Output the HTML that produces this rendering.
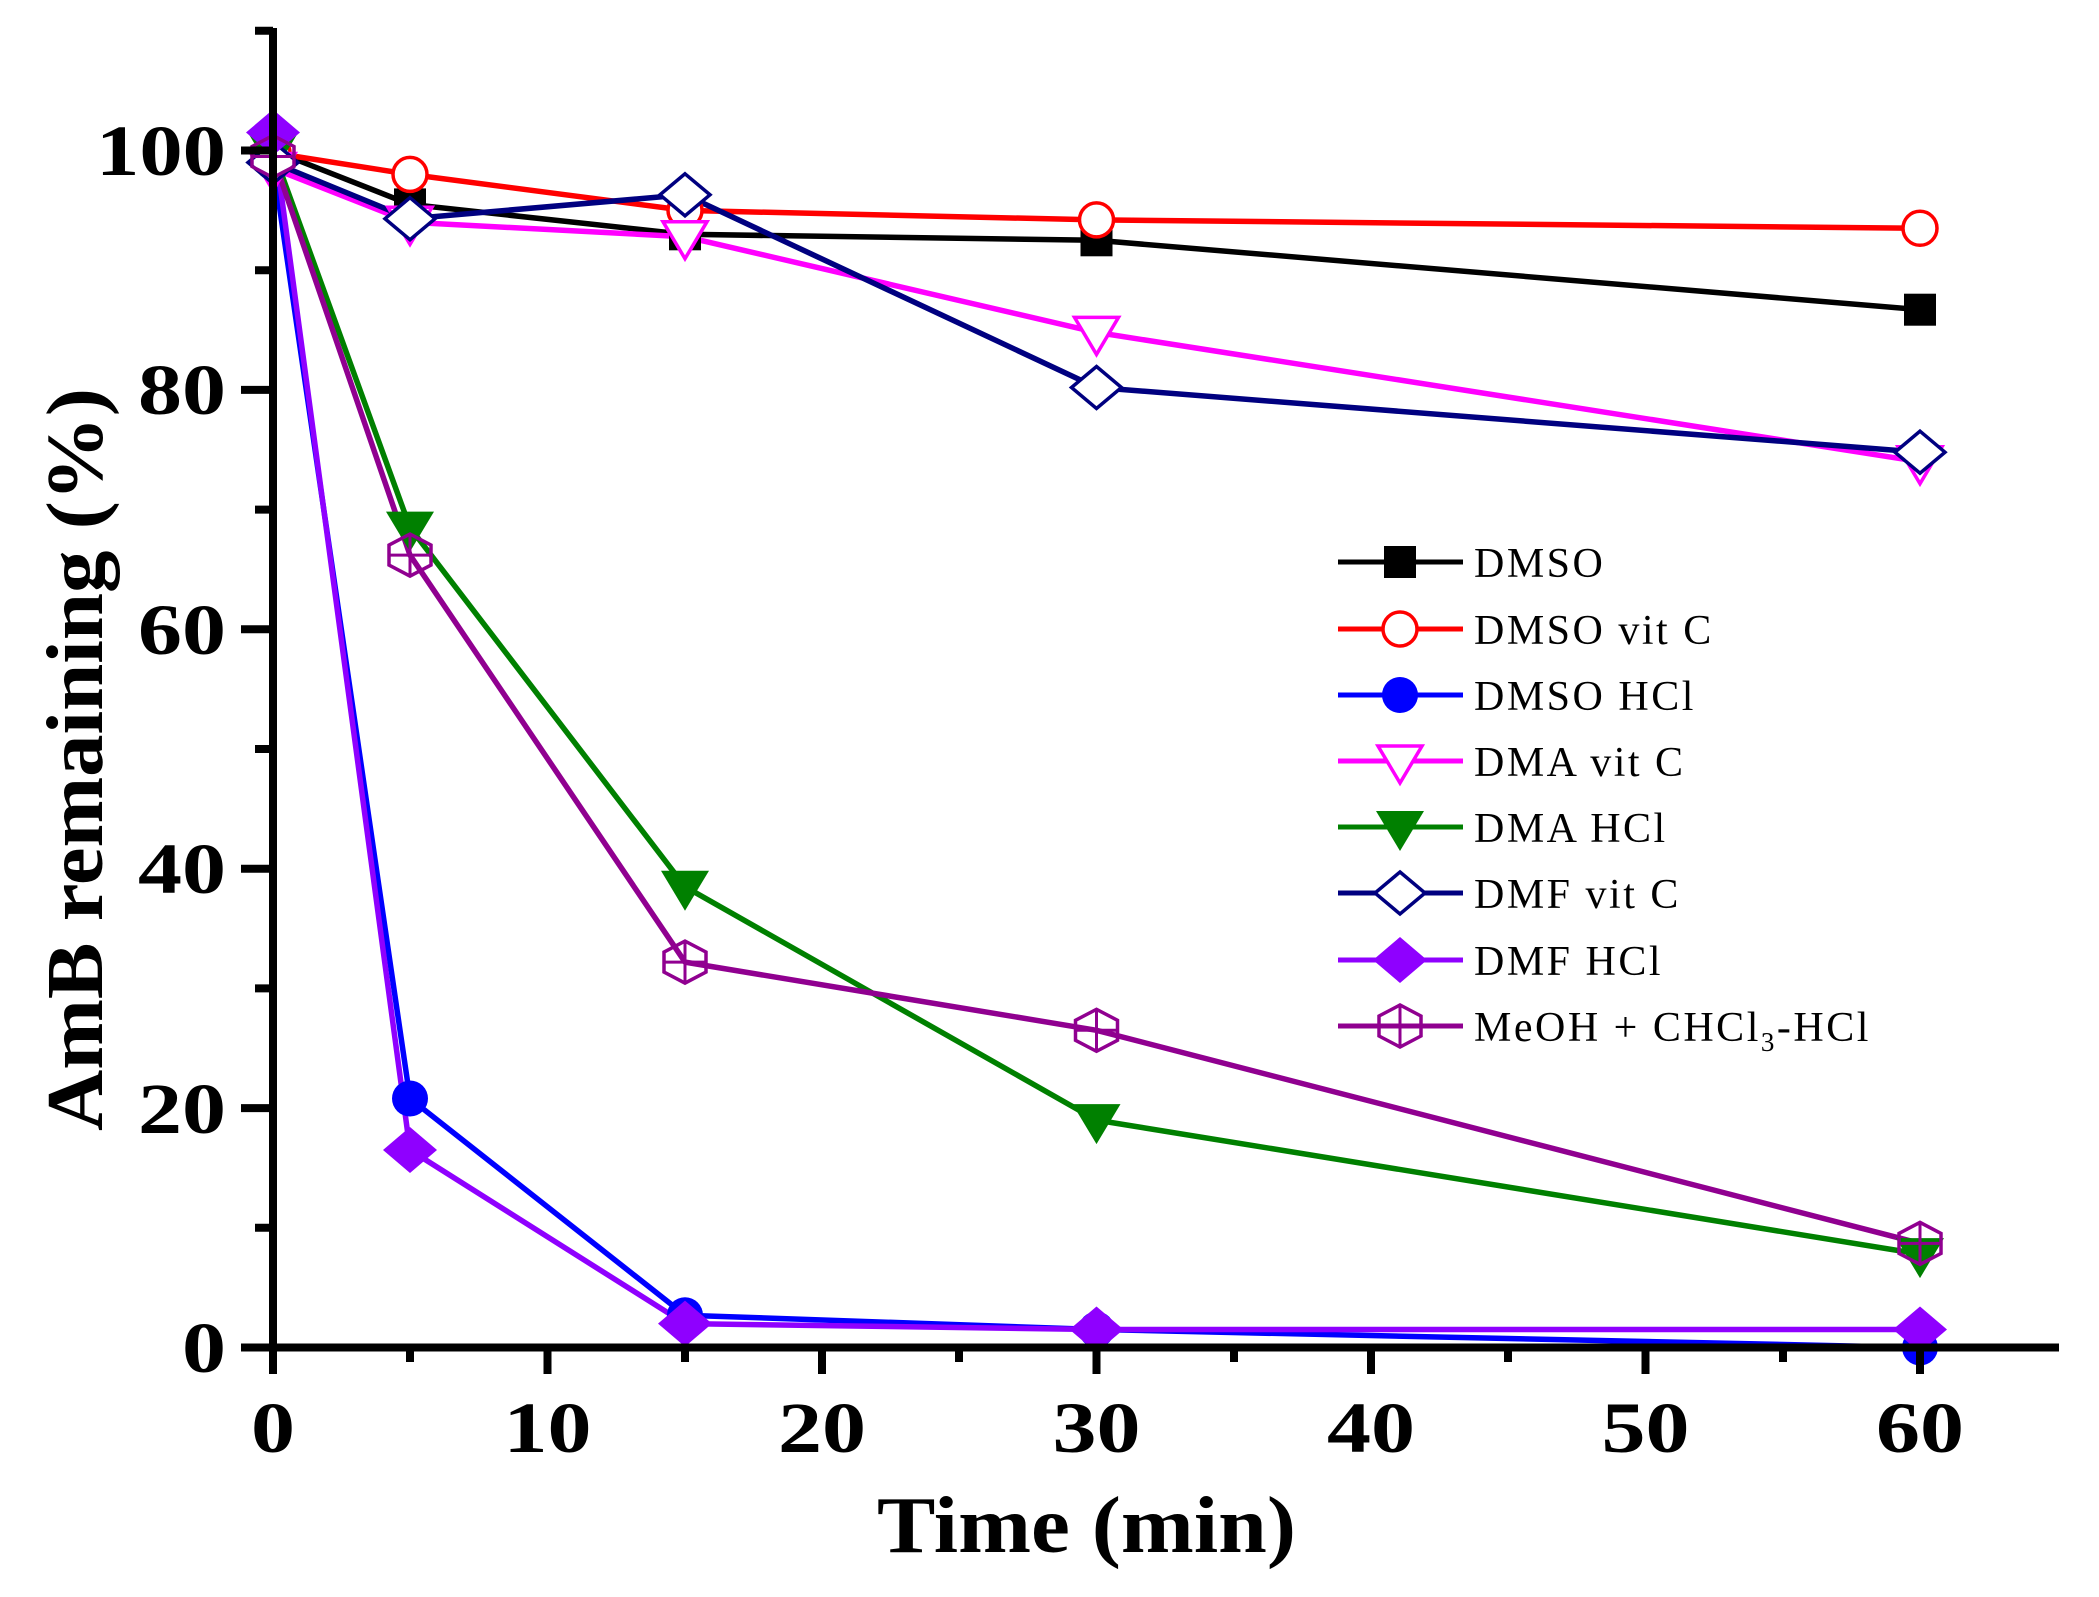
<!DOCTYPE html>
<html><head><meta charset="utf-8"><style>body{margin:0;background:#fff}svg{display:block}</style></head>
<body>
<svg width="2099" height="1597" viewBox="0 0 2099 1597" xmlns="http://www.w3.org/2000/svg">
<defs>
<g id="sq"><rect x="-16" y="-16" width="32" height="32" fill="#000"/></g>
<g id="oc"><circle r="17" fill="#fff" stroke="#f00" stroke-width="3.5"/></g>
<g id="fc"><circle r="18" fill="#00f"/></g>
<g id="ot"><polygon points="-22,-15 22,-15 0,22" fill="#fff" stroke="#f0f" stroke-width="3.5"/></g>
<g id="ft"><polygon points="-24,-16 24,-16 0,24" fill="#008000"/></g>
<g id="od"><polygon points="0,-21 25,0 0,21 -25,0" fill="#fff" stroke="#000080" stroke-width="3.5"/></g>
<g id="fd"><polygon points="0,-23 27,0 0,23 -27,0" fill="#8f00ff"/></g>
<g id="hx"><polygon points="-21,-10 0,-21 21,-10 21,10 0,21 -21,10" fill="none" stroke="#900090" stroke-width="3.5"/><path d="M0,-21V21M-21,0H21" stroke="#900090" stroke-width="3"/></g>
</defs>
<g fill="none" stroke-width="5.5" stroke-linejoin="round">
<polyline stroke="#000" points="273,150.5 410,204.4 685,234.3 1096.5,240.3 1920,309.7"/>
<polyline stroke="#f00" points="273,152.9 410,174.4 685,210.4 1096.5,219.9 1920,228.3"/>
<polyline stroke="#00f" points="273,162.5 410,1098.5 685,1315.2 1096.5,1329.5 1920,1347.5"/>
<polyline stroke="#f0f" points="273,168.5 410,222.3 685,236.7 1096.5,332.4 1920,461.7"/>
<polyline stroke="#008000" points="273,150.5 410,527.6 685,886.7 1096.5,1120.1 1920,1254.1"/>
<polyline stroke="#000080" points="273,162.5 410,218.7 685,194.8 1096.5,387.5 1920,452.2"/>
<polyline stroke="#8f00ff" points="273,132.5 410,1150 685,1323.6 1096.5,1329.5 1920,1329.5"/>
<polyline stroke="#900090" points="273,156.5 410,555.1 685,962.1 1096.5,1030.3 1920,1243.4"/>
</g>
<use href="#sq" x="273" y="150.5"/><use href="#sq" x="410" y="204.4"/><use href="#sq" x="685" y="234.3"/><use href="#sq" x="1096.5" y="240.3"/><use href="#sq" x="1920" y="309.7"/>
<use href="#oc" x="273" y="152.9"/><use href="#oc" x="410" y="174.4"/><use href="#oc" x="685" y="210.4"/><use href="#oc" x="1096.5" y="219.9"/><use href="#oc" x="1920" y="228.3"/>
<use href="#fc" x="273" y="162.5"/><use href="#fc" x="410" y="1098.5"/><use href="#fc" x="685" y="1315.2"/><use href="#fc" x="1096.5" y="1329.5"/><use href="#fc" x="1920" y="1347.5"/>
<use href="#ot" x="273" y="168.5"/><use href="#ot" x="410" y="222.3"/><use href="#ot" x="685" y="236.7"/><use href="#ot" x="1096.5" y="332.4"/><use href="#ot" x="1920" y="461.7"/>
<use href="#ft" x="273" y="150.5"/><use href="#ft" x="410" y="527.6"/><use href="#ft" x="685" y="886.7"/><use href="#ft" x="1096.5" y="1120.1"/><use href="#ft" x="1920" y="1254.1"/>
<use href="#od" x="273" y="162.5"/><use href="#od" x="410" y="218.7"/><use href="#od" x="685" y="194.8"/><use href="#od" x="1096.5" y="387.5"/><use href="#od" x="1920" y="452.2"/>
<use href="#fd" x="273" y="132.5"/><use href="#fd" x="410" y="1150"/><use href="#fd" x="685" y="1323.6"/><use href="#fd" x="1096.5" y="1329.5"/><use href="#fd" x="1920" y="1329.5"/>
<use href="#hx" x="273" y="156.5"/><use href="#hx" x="410" y="555.1"/><use href="#hx" x="685" y="962.1"/><use href="#hx" x="1096.5" y="1030.3"/><use href="#hx" x="1920" y="1243.4"/>
<g stroke="#000" stroke-width="8" fill="none">
<path d="M273,28V1351M269,1347.5H2059"/>
<path d="M241,1347.5H273M241,1108.1H273M241,868.7H273M241,629.3H273M241,389.9H273M241,150.5H273"/>
<path d="M255,1227.8H273M255,988.4H273M255,749H273M255,509.6H273M255,270.2H273M255,30.8H273"/>
<path d="M273,1347V1374M547.5,1347V1374M822,1347V1374M1096.5,1347V1374M1371,1347V1374M1645.5,1347V1374M1920,1347V1374"/>
<path d="M410,1347V1362M685,1347V1362M959,1347V1362M1234,1347V1362M1508,1347V1362M1783,1347V1362"/>
</g>
<g font-family="Liberation Serif, serif" font-weight="bold" font-size="72" fill="#000">
<g text-anchor="end">
<text x="226" y="1372" textLength="44" lengthAdjust="spacingAndGlyphs">0</text><text x="226" y="1133" textLength="88" lengthAdjust="spacingAndGlyphs">20</text><text x="226" y="893" textLength="88" lengthAdjust="spacingAndGlyphs">40</text><text x="226" y="654" textLength="88" lengthAdjust="spacingAndGlyphs">60</text><text x="226" y="414" textLength="88" lengthAdjust="spacingAndGlyphs">80</text><text x="226" y="175" textLength="130" lengthAdjust="spacingAndGlyphs">100</text>
</g>
<g text-anchor="middle">
<text x="273" y="1452" textLength="44" lengthAdjust="spacingAndGlyphs">0</text><text x="547.5" y="1452" textLength="88" lengthAdjust="spacingAndGlyphs">10</text><text x="822" y="1452" textLength="88" lengthAdjust="spacingAndGlyphs">20</text><text x="1096.5" y="1452" textLength="88" lengthAdjust="spacingAndGlyphs">30</text><text x="1371" y="1452" textLength="88" lengthAdjust="spacingAndGlyphs">40</text><text x="1645.5" y="1452" textLength="88" lengthAdjust="spacingAndGlyphs">50</text><text x="1920" y="1452" textLength="88" lengthAdjust="spacingAndGlyphs">60</text>
</g>
<text x="877" y="1552" font-size="80" textLength="419" lengthAdjust="spacingAndGlyphs">Time (min)</text>
<text transform="translate(102,1131) rotate(-90)" font-size="80" textLength="743" lengthAdjust="spacingAndGlyphs">AmB remaining (%)</text>
</g>
<g stroke-width="5">
<line x1="1338" y1="562" x2="1463" y2="562" stroke="#000"/><use href="#sq" x="1400" y="562"/>
<line x1="1338" y1="629" x2="1463" y2="629" stroke="#f00"/><use href="#oc" x="1400" y="629"/>
<line x1="1338" y1="695" x2="1463" y2="695" stroke="#00f"/><use href="#fc" x="1400" y="695"/>
<line x1="1338" y1="761" x2="1463" y2="761" stroke="#f0f"/><use href="#ot" x="1400" y="761"/>
<line x1="1338" y1="827" x2="1463" y2="827" stroke="#008000"/><use href="#ft" x="1400" y="827"/>
<line x1="1338" y1="893" x2="1463" y2="893" stroke="#000080"/><use href="#od" x="1400" y="893"/>
<line x1="1338" y1="960" x2="1463" y2="960" stroke="#8f00ff"/><use href="#fd" x="1400" y="960"/>
<line x1="1338" y1="1026" x2="1463" y2="1026" stroke="#900090"/><use href="#hx" x="1400" y="1026"/>
</g>
<g font-family="Liberation Serif, serif" font-size="42" letter-spacing="2.5" fill="#000">
<text x="1474" y="577">DMSO</text>
<text x="1474" y="644">DMSO vit C</text>
<text x="1474" y="710">DMSO HCl</text>
<text x="1474" y="776">DMA vit C</text>
<text x="1474" y="842">DMA HCl</text>
<text x="1474" y="908">DMF vit C</text>
<text x="1474" y="975">DMF HCl</text>
<text x="1474" y="1041">MeOH + CHCl<tspan font-size="27" dy="10">3</tspan><tspan dy="-10">-HCl</tspan></text>
</g>
</svg>
</body></html>
